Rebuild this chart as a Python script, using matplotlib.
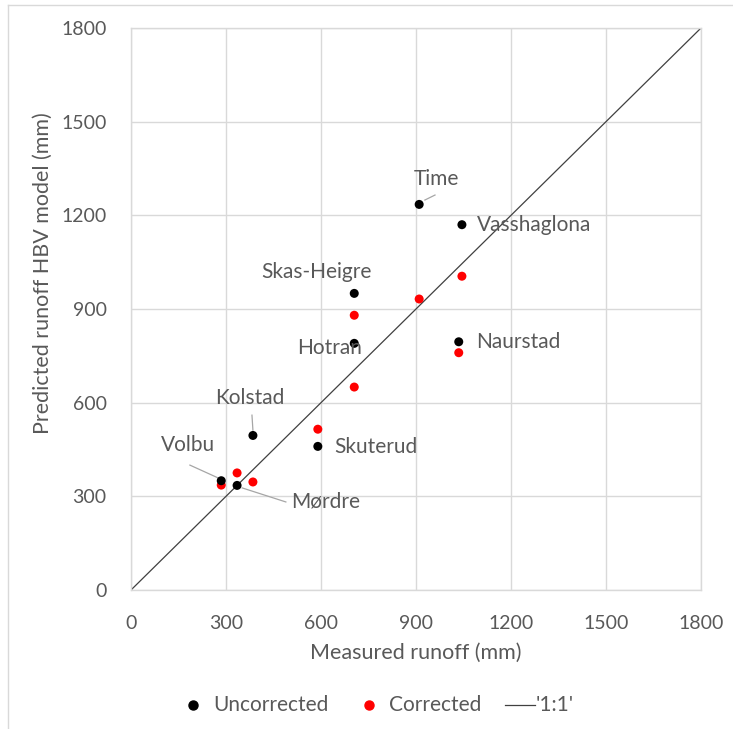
import matplotlib
matplotlib.use("Agg")
import matplotlib.pyplot as plt
from matplotlib.lines import Line2D

stations = ["Volbu", "Mørdre", "Kolstad", "Skuterud", "Hotran", "Skas-Heigre",
            "Time", "Vasshaglona", "Naurstad"]
measured = [285, 335, 385, 590, 705, 705, 910, 1045, 1035]
uncorrected = [350, 335, 495, 460, 790, 950, 1235, 1170, 795]
corrected = [336, 375, 346, 515, 650, 880, 932, 1005, 760]
ticks = [0, 300, 600, 900, 1200, 1500, 1800]
series_names = ['Uncorrected', 'Corrected', "'1:1'"]

plt.rcParams['font.family'] = ['Lato', 'DejaVu Sans']
TXT = '#595959'
FS = 15
W, H = 733, 729
fig = plt.figure(figsize=(W / 100, H / 100), dpi=100)
ax = fig.add_axes([131 / W, 1 - 590 / H, (701 - 131) / W, (590 - 28) / H])

ax.set_xlim(0, 1800)
ax.set_ylim(0, 1800)
ax.set_xticks(ticks)
ax.set_yticks(ticks)
ax.grid(True, color='#d9d9d9', linewidth=1)
ax.set_axisbelow(True)
for s in ax.spines.values():
    s.set_color('#d9d9d9')
    s.set_linewidth(1)
ax.tick_params(length=0, labelsize=14, labelcolor=TXT)
ax.tick_params(axis='x', pad=18)
ax.tick_params(axis='y', pad=17.5)

ax.plot([0, 1800], [0, 1800], color='#404040', linewidth=0.9, zorder=2)
ax.scatter(measured, corrected, s=42, color='#ff0000', edgecolors='none', zorder=3)
ax.scatter(measured, uncorrected, s=42, color='black', edgecolors='none', zorder=4)

fig.text(416 / W, 1 - 653 / H, 'Measured runoff (mm)', fontsize=15.5,
         color=TXT, ha='center', va='center')
fig.text(43 / W, 1 - 273 / H, 'Predicted runoff HBV model (mm)', fontsize=15.5,
         color=TXT, ha='center', va='center', rotation=90)

# label positions (data units) and alignment
lab = {
    "Volbu": (180, 464, 'center'),
    "Mørdre": (616, 282, 'center'),
    "Kolstad": (376, 615, 'center'),
    "Skuterud": (641, 458, 'left'),
    "Hotran": (628, 775, 'center'),
    "Skas-Heigre": (587, 1019, 'center'),
    "Time": (963, 1316, 'center'),
    "Vasshaglona": (1093, 1169, 'left'),
    "Naurstad": (1090, 794, 'left'),
}
leaders = {
    "Volbu": ((186, 400), (275, 359)),
    "Mørdre": ((351, 327), (489, 282)),
    "Kolstad": ((382, 560), (385, 512)),
    "Time": ((928, 1249), (960, 1265)),
}
for name in stations:
    tx, ty, ha = lab[name]
    ax.text(tx, ty, name, fontsize=FS, color=TXT, ha=ha, va='center', zorder=5)
    if name in leaders:
        (x0, y0), (x1, y1) = leaders[name]
        ax.plot([x0, x1], [y0, y1], color='#a6a6a6', linewidth=0.9, zorder=2)

# legend drawn manually (pixel placement)
ly = 1 - 705 / H
fig.add_artist(Line2D([193 / W], [ly], marker='o', color='black', markersize=6.5,
                      linestyle='none', transform=fig.transFigure))
fig.text(213 / W, ly, series_names[0], fontsize=FS, color=TXT, ha='left', va='center')
fig.add_artist(Line2D([369 / W], [ly], marker='o', color='#ff0000', markersize=6.5,
                      linestyle='none', transform=fig.transFigure))
fig.text(389 / W, ly, series_names[1], fontsize=FS, color=TXT, ha='left', va='center')
fig.add_artist(Line2D([505 / W, 535 / W], [ly, ly], color='#404040', linewidth=0.9,
                      transform=fig.transFigure))
fig.text(536 / W, ly, series_names[2], fontsize=FS, color=TXT, ha='left', va='center')

# outer border (left and top only)
fig.add_artist(Line2D([8 / W, 8 / W], [0, 1 - 5 / H], color='#d9d9d9', linewidth=1,
                      transform=fig.transFigure))
fig.add_artist(Line2D([8 / W, 1], [1 - 5 / H, 1 - 5 / H], color='#d9d9d9', linewidth=1,
                      transform=fig.transFigure))

fig.savefig('out.png', dpi=100)
